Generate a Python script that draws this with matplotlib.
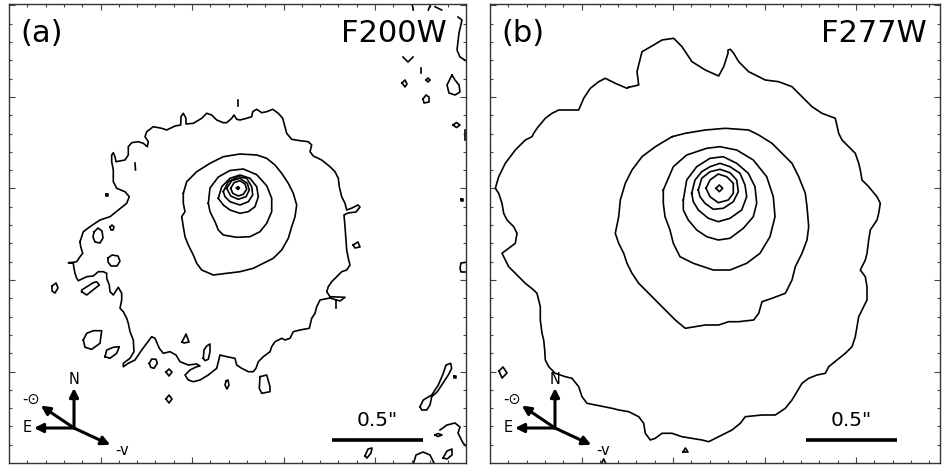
import numpy as np
import matplotlib
matplotlib.use("Agg")
import matplotlib.pyplot as plt

# Contours are traced in image pixel coordinates (x right, y down).
PIXSCALE = 0.5 / 91.5          # arcsec per pixel
CRPIX_A = (238.0, 188.0)       # source centre, F200W
CRPIX_B = (719.0, 188.0)       # source centre, F277W
FRAME_A = (9, 466, 4, 463)     # x0, x1, y0, y1
FRAME_B = (490, 940, 4, 463)

# ---- F200W contours ----
A_OUTER = [
    (80, 241.7), (83.3, 231.7), (90, 226.7), (100, 220), (110, 216.7), (118.3, 210),
    (126.7, 203.3), (129.3, 196.7), (125, 191.7), (116.7, 188.3), (113.3, 181.7),
    (113.3, 170), (111.7, 161.7), (111.7, 155), (113.3, 152.7), (115, 156.7), (116, 161.7),
    (125, 160), (128.3, 155), (128.3, 146.7), (131.7, 142.7), (138.3, 141.7), (143.3, 143.3),
    (147.3, 146.7), (148.3, 141.7), (145, 136.7), (146.7, 131.7), (153.3, 126.7),
    (161.7, 128.3), (166.7, 130), (175, 126), (180.7, 125), (181, 116.7), (183.3, 113.3),
    (186, 118.3), (186, 124), (193.3, 123.3), (201.7, 118.3), (206.7, 113.3), (211.7, 115),
    (216.7, 120), (223.3, 122.7), (226.7, 122.7), (231.7, 118.3), (234, 115), (236.7, 119.3),
    (240, 120), (246.7, 118.3), (251.7, 116.7), (252.7, 111.7), (256.7, 109.3),
    (261.7, 112.7), (266.7, 111.7), (272.7, 109.3), (278.3, 113.3), (282.7, 118.3),
    (285, 126.7), (286.7, 133.3), (291.7, 139.3), (300, 140.7), (308.3, 141.7), (311.7, 145),
    (310, 151.7), (313.3, 156), (321.7, 160), (330, 166.7), (335, 171.7), (338.3, 178.3),
    (339.3, 186.7), (341.7, 196.7), (345, 203.3), (346.7, 210), (352, 208), (358, 205),
    (360, 207), (356, 212), (348, 213), (344, 215), (345, 226.7), (346, 240), (346.7, 250),
    (348.3, 258.3), (350, 265), (346.7, 270), (341.7, 271.7), (336.7, 276.7), (331.7, 281.7),
    (328.3, 286.7), (326.7, 291.7), (330, 296.7), (345, 297.3), (340, 301), (330, 298),
    (320, 300), (316.7, 306.7), (315, 313.3), (311.7, 318.3), (309.3, 328.3), (300, 330),
    (293.3, 331.7), (290, 338.3), (285, 340), (281.7, 338.3), (275, 341.7), (271.7, 346.7),
    (270, 351.7), (263.3, 356.7), (258.3, 361.7), (256, 368.3), (253.3, 371.7),
    (248.3, 371.7), (241.7, 368.3), (236.7, 365), (235, 358.3), (226.7, 356.7), (220, 355),
    (218.3, 361.7), (216.7, 368.3), (208.3, 375), (200, 380), (193.3, 381.7), (188.3, 380),
    (185, 375), (190, 370), (196.7, 366.7), (200, 366), (196.7, 364), (188.3, 365),
    (180, 361.7), (176, 355), (170, 351.7), (163.3, 353.3), (159.3, 348.3), (155, 338.3),
    (151.7, 336.7), (146.7, 343.3), (141.7, 350), (135, 360), (128.3, 363.3),
    (123.3, 366.7), (123.3, 363.3), (130, 358.3), (134, 351.7), (133.3, 340), (130, 331.7),
    (128.3, 323.3), (126.7, 318.3), (123.3, 311.7), (120, 308.3), (121.7, 300),
    (121.7, 293.3), (118.3, 287.3), (113.3, 295), (110, 291.7), (109.3, 285), (106.7, 278.3),
    (106.7, 273.3), (103.3, 271.7), (98.3, 271.7), (93.3, 276), (86.7, 276.7), (78.3, 280.7),
    (76.7, 278.3), (75, 273.3), (74, 268.3), (73.3, 263.3), (68.3, 262.7), (73.3, 262.3),
    (76.7, 261.7), (80, 256.7), (82.7, 253.3), (80.7, 246.7), (80, 241.7),
]
A_LEVEL2 = [
    (183.3, 193.3), (186.7, 181.7), (196.7, 171.7), (210, 163.3), (223.3, 156.7), (240, 154),
    (256.7, 155), (266.7, 158.3), (275, 165), (281.7, 173.3), (288.3, 183.3), (293.3, 193.3),
    (296.7, 205), (295, 216.7), (291.7, 226.7), (288.3, 238.3), (281.7, 250), (273.3, 258.3),
    (263.3, 263.3), (253.3, 268.3), (240, 271.7), (226.7, 273.3), (213.3, 275), (201.7, 270),
    (196.7, 263.3), (193.3, 255), (188.3, 245), (185, 236.7), (183.3, 226.7), (181.7, 216.7),
    (185, 211.7), (183.3, 203.3), (183.3, 193.3),
]
A_LEVEL3 = [
    (208.3, 203.3), (210, 188), (218.3, 177), (230, 170.5), (243.3, 169), (256.7, 174.7),
    (266.7, 185.7), (271.7, 198.3), (271.7, 211.7), (266.7, 223.3), (260, 231.7),
    (250, 236.7), (236.7, 237.3), (223.3, 235), (218.3, 230), (215, 221.7), (210, 211.7),
    (208.3, 203.3),
]
A_LEVEL4 = [
    (218.3, 198.3), (221.7, 186.7), (230, 178.3), (240, 175), (250, 178.3), (256.7, 186.7),
    (258.3, 196.7), (255, 206.7), (248.3, 211.7), (240, 213.3), (230, 210), (223.3, 205),
    (218.3, 198.3),
]
A_LEVEL5 = [
    (223.3, 191.7), (228.3, 181.7), (238.3, 176.7), (246.7, 178.3), (251.7, 186.7),
    (252.7, 195), (248.3, 201.7), (240, 205), (230, 201.7), (225, 196.7), (223.3, 191.7),
]
A_LEVEL6 = [
    (226.7, 188.3), (231.7, 180.7), (240, 178.3), (247.3, 183.3), (249.3, 190),
    (246, 196.7), (238.3, 199.3), (230.7, 196), (226.7, 188.3),
]
A_LEVEL7 = [
    (230.7, 188.3), (234, 182.7), (240, 180.7), (245, 184), (246.7, 189.3), (243.3, 194.3),
    (238.3, 196), (232.7, 193.3), (230.7, 188.3),
]
A_PEAK = [(236.5, 188), (238, 186.5), (239.5, 188), (238, 189.5), (236.5, 188)]

# small noise islands and edge fragments around the F200W source
A_ISLANDS = [
    [(94, 232), (98, 228), (102, 231), (103, 238), (100, 243), (95, 242), (93, 237), (94, 232)],
    [(110, 227), (112, 225), (114, 227), (113, 230), (111, 230), (110, 227)],
    [(108, 258), (112, 255), (118, 256), (120, 261), (117, 266), (111, 266), (108, 262), (108, 258)],
    [(81.7, 291.7), (86.7, 295), (99.3, 285), (96.7, 281.7), (93.3, 282.7), (81.7, 290), (81.7, 291.7)],
    [(52, 286), (56, 283), (58, 288), (55, 293), (52, 291), (52, 286)],
    [(83.3, 340), (86.7, 333.3), (93.3, 330.7), (101.7, 330.7), (100, 343.3), (91.7, 349.3),
     (85, 347.3), (83.3, 340)],
    [(105, 356.7), (106.7, 350), (113.3, 347.3), (119.3, 346.7), (116.7, 353.3), (110, 358.3),
     (105, 356.7)],
    [(149.3, 363.3), (151.7, 359), (156, 359.3), (157.3, 363.3), (154, 368.3), (150.7, 367.3),
     (149.3, 363.3)],
    [(166, 372), (169, 369), (172, 372), (169, 376), (166, 372)],
    [(166, 399), (169, 395), (172, 399), (169, 403), (166, 399)],
    [(182, 342), (186, 334), (189, 342), (184, 343), (182, 342)],
    [(203.3, 358.3), (204, 350), (206.7, 346), (210, 344), (210, 351.7), (208.3, 359.3),
     (205, 360.7), (203.3, 358.3)],
    [(226, 381), (228, 380), (229, 385), (227, 389), (225, 385), (226, 381)],
    [(260, 376.7), (266.7, 375), (270, 386.7), (270, 391.7), (261.7, 393.3), (259.3, 388.3),
     (260, 376.7)],
    [(353, 245), (358, 242), (360, 247), (355, 248), (353, 245)],
    [(336, 300), (336, 308)],
    [(468, 262), (461, 263), (460, 268), (461, 272), (468, 272)],
    [(403, 57), (408, 62), (413, 57)],
    [(421.5, 68), (421.5, 73)],
    [(402, 83), (405, 80), (407, 84), (405, 87), (402, 83)],
    [(426, 80), (428, 78), (430, 80), (428, 82), (426, 80)],
    [(423, 99), (426, 95), (429, 97), (429, 102), (424, 103), (423, 99)],
    [(452, 75), (447, 85), (449, 93), (455, 95), (460, 92), (459, 85), (455, 80), (452, 75)],
    [(453, 125), (456.5, 122.5), (460, 125), (456.5, 127.5), (453, 125)],
    [(458, 17), (462, 20), (459, 33), (457, 50), (460, 57), (468, 62)],
    [(411.7, 2), (413.3, 10)], [(431.7, 2), (428.3, 10)], [(435, 6.7), (441.7, 10)],
    [(465, 130), (465, 140)],
    [(461, 199), (463, 199), (463, 201), (461, 201), (461, 199)],
    [(238, 100), (238, 106)],
    [(135, 163), (135.5, 170)],
    [(106, 194), (108, 194), (108, 196), (106, 196), (106, 194)],
    [(420, 406.7), (423.3, 400), (431.7, 395), (435, 390), (438.3, 385), (443.3, 373.3),
     (446, 365), (450.7, 363.3), (451.7, 368.3), (448.3, 375), (441.7, 385), (437.3, 391.7),
     (431.7, 396.7), (430, 405), (426.7, 410), (421.7, 410), (420, 406.7)],
    [(454, 376), (456, 376), (456, 378), (454, 378), (454, 376)],
    [(435, 435), (438, 433.5), (442, 435), (438, 436.5), (435, 435)],
    [(365, 456), (368, 449), (372, 448), (371, 453), (367, 458), (365, 456)],
    [(413, 465), (416, 455), (423, 452), (430, 455), (435, 465)],
    [(443, 458), (447, 451), (452, 449), (452, 455), (447, 459), (443, 458)],
    [(440, 430), (447, 425), (455, 423), (460, 427), (458, 433), (463, 443), (468, 448)],
]

# ---- F277W contours ----
B_OUTER = [
    (628.7, 87.3), (638.7, 85), (637, 71.7), (642, 51.7), (653.7, 45), (662, 40),
    (673.7, 38.3), (682, 46.7), (692, 61.7), (705.3, 70), (718.7, 76), (723.7, 66.7),
    (728, 53.3), (728, 50), (730.3, 49.3), (733.7, 53.3), (738.7, 61.7), (748.7, 71.7),
    (765.3, 80), (778.7, 81.7), (792, 86.7), (805.3, 100), (812, 106.7), (822, 113.3),
    (835.3, 118.3), (838.7, 133.3), (842, 140), (852, 150), (855.3, 153.3), (858.7, 163.3),
    (860.3, 170), (862, 180), (868.7, 186.7), (877, 196.7), (880.3, 203.3), (878.7, 213.3),
    (877, 220), (870.3, 230), (868.7, 240), (867, 253.3), (865.3, 260), (860.3, 270),
    (865.3, 276.7), (867, 286.7), (867, 300), (863.7, 306.7), (858.7, 316.7), (857, 326.7),
    (855.3, 336.7), (852, 346.7), (845.3, 353.3), (837, 360), (828.7, 366.7), (825.3, 373.3),
    (817, 375), (808.7, 378.3), (802, 383.3), (797, 391.7), (792, 400), (785.3, 408.3),
    (775.3, 415), (762, 415), (745.3, 416.7), (740.3, 423.3), (732, 430), (722, 435),
    (708.7, 441.7), (702, 440), (692, 438.3), (682, 436.7), (672, 433.3), (662, 433.3),
    (655.3, 438.3), (650.3, 440), (645.3, 433.3), (643.7, 423.3), (638.7, 416.7),
    (628.7, 411.7), (618.7, 410), (612, 408.3), (595.3, 405), (587, 403.3), (582, 396.7),
    (578.7, 386.7), (572, 378.3), (565.3, 376.7), (555.3, 373.3), (548.7, 366.7),
    (545.3, 360), (544.7, 350), (543.7, 340), (542, 333.3), (540.3, 320), (540.3, 306.7),
    (537, 293.3), (533.7, 290), (525.3, 283.3), (518.7, 276.7), (508.7, 266.7),
    (503.7, 256.7), (502, 253.3), (515.3, 243.3), (517, 233.3), (513.7, 226.7), (507, 220),
    (503.7, 213.3), (502, 203.3), (498.7, 193.3), (495.3, 188.3), (498.7, 176.7),
    (505.3, 163.3), (515.3, 150), (525.3, 140), (532, 136.7), (533.7, 133.3), (537, 128.3),
    (545.3, 118.3), (552, 113.3), (558.7, 110), (570.3, 110), (578.7, 110), (583.7, 98.3),
    (587, 93.3), (590.3, 88.3), (598.7, 81.7), (605.3, 78.3), (615.3, 83.3), (627, 88.3),
    (628.7, 87.3),
]
B_LEVEL2 = [
    (672, 136.7), (685.3, 133.3), (705.3, 130), (725.3, 128.3), (748.7, 130), (758.7, 135),
    (772, 143.3), (782, 153.3), (792, 163.3), (798.7, 176.7), (805.3, 193.3), (807, 206.7),
    (808.7, 226.7), (807, 240), (802, 253.3), (795.3, 266.7), (792, 280), (785.3, 293.3),
    (772, 298.3), (762, 301.7), (758.7, 313.3), (753.7, 320), (738.7, 321.7), (728.7, 321.7),
    (718.7, 325), (705.3, 325), (685.3, 328.3), (675.3, 320), (665.3, 310), (655.3, 300),
    (648.7, 293.3), (638.7, 283.3), (632, 273.3), (627, 263.3), (623.7, 253.3),
    (618.7, 243.3), (615.3, 233.3), (618.7, 216.7), (620.3, 200), (625.3, 183.3), (632, 170),
    (642, 156.7), (655.3, 146.7), (672, 136.7),
]
B_LEVEL3 = [
    (663.3, 190), (673.3, 166.7), (686.7, 155), (706.7, 148.3), (720, 146.7), (736.7, 150),
    (753.3, 160), (766.7, 176.7), (773.3, 196.7), (775, 216.7), (770, 236.7), (760, 253.3),
    (746.7, 263.3), (730, 270), (713.3, 270), (693.3, 263.3), (680, 256.7), (673.3, 243.3),
    (670, 230), (665, 216.7), (663.3, 203.3), (663.3, 190),
]
B_LEVEL4 = [
    (683.3, 200), (686.7, 180), (696.7, 166.7), (710, 158.3), (723.3, 156.7), (736.7, 163.3),
    (748.3, 173.3), (755, 186.7), (756.7, 203.3), (753.3, 216.7), (743.3, 228.3), (730, 238.3),
    (718.3, 240), (706.7, 236.7), (696.7, 230), (688.3, 220), (683.3, 210), (683.3, 200),
]
B_LEVEL5 = [
    (691.7, 193.3), (695, 180), (701.7, 171.7), (710, 166.7), (720, 163.3), (730, 166.7),
    (740, 173.3), (745, 185), (746.7, 196.7), (741.7, 210), (730, 218.3), (718.3, 221.7),
    (708.3, 218.3), (698.3, 210), (693.3, 201.7), (691.7, 193.3),
]
B_LEVEL6 = [
    (698.3, 190), (701.7, 178.3), (710, 171.7), (720, 169.3), (730, 172.7), (736.7, 180),
    (738.3, 191.7), (733.3, 201.7), (723.3, 208.3), (713.3, 209.3), (705, 203.3), (700, 196.7),
    (698.3, 190),
]
B_LEVEL7 = [
    (706, 188.3), (710, 180), (718.3, 174), (726.7, 176.7), (733.3, 183.3), (733.3, 193.3),
    (728.3, 200), (718.3, 202.7), (710, 196.7), (706, 188.3),
]
B_PEAK = [(716, 188.3), (719.3, 185), (722.7, 188.3), (719.3, 191.7), (716, 188.3)]
B_ISLANDS = [
    [(499, 371), (503, 367), (507, 373), (502, 378), (499, 371)],
    [(683, 452), (685.3, 448), (688, 452), (683, 452)],
    [(600, 466), (603.7, 459), (607, 466)],
]

PANELS = [
    ("(a)", "F200W", CRPIX_A, FRAME_A, 19,
     [A_OUTER, A_LEVEL2, A_LEVEL3, A_LEVEL4, A_LEVEL5, A_LEVEL6, A_LEVEL7, A_PEAK], A_ISLANDS),
    ("(b)", "F277W", CRPIX_B, FRAME_B, 13,
     [B_OUTER, B_LEVEL2, B_LEVEL3, B_LEVEL4, B_LEVEL5, B_LEVEL6, B_LEVEL7, B_PEAK], B_ISLANDS),
]


def to_sky(pts, ref):
    p = np.asarray(pts, dtype=float)
    return (p[:, 0] - ref[0]) * PIXSCALE, (ref[1] - p[:, 1]) * PIXSCALE


W, H = 942, 466
fig = plt.figure(figsize=(W / 100, H / 100), dpi=100)

for label, band, ref, frame, band_pad, levels, islands in PANELS:
    x0, x1, y0, y1 = frame
    ax = fig.add_axes([x0 / W, (H - y1) / H, (x1 - x0) / W, (y1 - y0) / H])
    xmin, xmax = (x0 - ref[0]) * PIXSCALE, (x1 - ref[0]) * PIXSCALE
    ymin, ymax = (ref[1] - y1) * PIXSCALE, (ref[1] - y0) * PIXSCALE
    ax.set_xlim(xmin, xmax)
    ax.set_ylim(ymin, ymax)

    for pts in levels + islands:
        xs, ys = to_sky(pts, ref)
        ax.plot(xs, ys, color="black", lw=1.2, solid_joinstyle="round")

    # ticks every 0.1" (major every 0.5") from the lower-left corner
    ax.set_xticks(xmin + np.arange(0, xmax - xmin, 0.5)[1:])
    ax.set_yticks(ymin + np.arange(0, ymax - ymin, 0.5)[1:])
    ax.set_xticks(xmin + np.arange(0, xmax - xmin, 0.1)[1:], minor=True)
    ax.set_yticks(ymin + np.arange(0, ymax - ymin, 0.1)[1:], minor=True)
    ax.tick_params(which="both", direction="in", top=True, right=True,
                   labelbottom=False, labelleft=False, width=0.8, color="#444444")
    ax.tick_params(which="major", length=4)
    ax.tick_params(which="minor", length=2)
    for sp in ax.spines.values():
        sp.set_linewidth(1.0)
        sp.set_color("#333333")

    ax.text(11 * PIXSCALE + xmin, ymax - 38 * PIXSCALE, label,
            fontsize=22, ha="left", va="baseline")
    ax.text(xmax - band_pad * PIXSCALE, ymax - 38 * PIXSCALE, band,
            fontsize=22, ha="right", va="baseline")

    # 0.5" scale bar
    bx = xmax - (43 + 45.75) * PIXSCALE
    by = ymin + 23 * PIXSCALE
    ax.plot([bx - 0.25, bx + 0.25], [by, by], color="black", lw=2.6,
            solid_capstyle="butt")
    ax.text(bx, by + 14 * PIXSCALE, '0.5"', fontsize=14.5, ha="center", va="baseline")

    # compass: N, E, direction to the Sun and negative velocity vector
    ox, oy = xmin + 65 * PIXSCALE, ymin + 35 * PIXSCALE
    arm = 40 * PIXSCALE
    for ang, txt, dist in [(90, "N", 49), (180, "E", 47), (146, "-\u2299", 52), (-25, "-v", 53)]:
        dx, dy = np.cos(np.radians(ang)), np.sin(np.radians(ang))
        ax.annotate("", xy=(ox + arm * dx, oy + arm * dy), xytext=(ox, oy),
                    arrowprops=dict(arrowstyle="-|>", lw=2.2, color="black",
                                    mutation_scale=13, shrinkA=0, shrinkB=0))
        d = dist * PIXSCALE
        ax.text(ox + d * dx, oy + d * dy, txt, fontsize=10.5, ha="center", va="center")

fig.savefig("out.png", dpi=100)
